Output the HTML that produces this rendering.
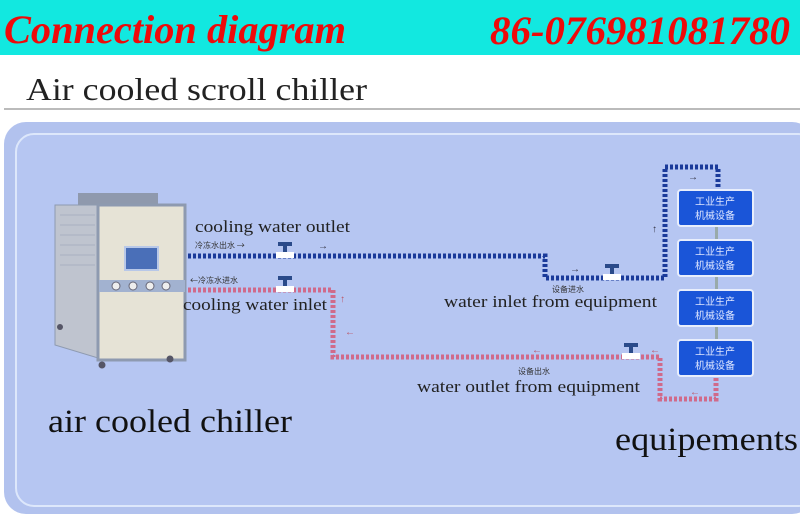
<!DOCTYPE html>
<html><head><meta charset="utf-8"><style>
body{margin:0;width:800px;height:514px;overflow:hidden;background:#fff}
svg{display:block}
</style></head><body>
<svg width="800" height="514" xmlns="http://www.w3.org/2000/svg" font-family="Liberation Serif, serif">
<rect x="0" y="0" width="800" height="55" fill="#12e8e0"/>
<text x="4" y="43" fill="#ee0a0a" font-size="40" font-style="italic" font-weight="bold" textLength="342" lengthAdjust="spacingAndGlyphs">Connection diagram</text>
<text x="490" y="44" fill="#ee0a0a" font-size="40" font-style="italic" font-weight="bold" textLength="300" lengthAdjust="spacingAndGlyphs">86-076981081780</text>
<text x="26" y="100" fill="#222" font-size="32" textLength="341" lengthAdjust="spacingAndGlyphs">Air cooled scroll chiller</text>
<rect x="4" y="108" width="796" height="2" fill="#bbb"/>
<rect x="4" y="122" width="810" height="392" rx="22" fill="#b2c2ee"/>
<rect x="16" y="134" width="800" height="372" rx="18" fill="#b6c6f2" stroke="#dde7fb" stroke-width="2"/>
<!-- chiller -->
<rect x="78" y="193" width="80" height="13" fill="#8f99ad"/>
<polygon points="55,205 98,205 98,358 55,345" fill="#bfc4cf" stroke="#8e9ab0"/>
<g stroke="#a9b0c0"><line x1="60" y1="215" x2="95" y2="215"/><line x1="60" y1="225" x2="95" y2="225"/><line x1="60" y1="235" x2="95" y2="235"/><line x1="60" y1="245" x2="95" y2="245"/><line x1="60" y1="255" x2="95" y2="255"/><line x1="60" y1="265" x2="95" y2="265"/></g>
<rect x="98" y="205" width="87" height="155" fill="#e6e3d6" stroke="#8e9ab0" stroke-width="3"/>
<rect x="125" y="247" width="33" height="23" fill="#4a6fb8" stroke="#b8c8e8" stroke-width="2"/>
<rect x="99" y="280" width="86" height="12" fill="#a2b2d0"/>
<g fill="#eee" stroke="#667"><circle cx="116" cy="286" r="4"/><circle cx="133" cy="286" r="4"/><circle cx="150" cy="286" r="4"/><circle cx="166" cy="286" r="4"/></g>
<g fill="#556"><circle cx="102" cy="365" r="3.5"/><circle cx="170" cy="359" r="3.5"/><circle cx="60" cy="327" r="3"/></g>
<!-- pipes -->
<polyline points="188,256 545,256 545,278 665,278 665,167 718,167 718,190" fill="none" stroke="#1a3a9a" stroke-width="5" stroke-dasharray="3,2"/>
<polyline points="188,290 333,290 333,357 660,357 660,399 716,399 716,375" fill="none" stroke="#d06a8a" stroke-width="5" stroke-dasharray="3,2"/>
<!-- valves -->
<g><rect x="276" y="252" width="18" height="6" fill="#fff"/><rect x="283" y="243" width="4" height="9" fill="#2a4a8a"/><rect x="278" y="242" width="14" height="4" fill="#2a4a8a"/></g>
<g><rect x="276" y="286" width="18" height="6" fill="#fff"/><rect x="283" y="277" width="4" height="9" fill="#2a4a8a"/><rect x="278" y="276" width="14" height="4" fill="#2a4a8a"/></g>
<g><rect x="603" y="274" width="18" height="6" fill="#fff"/><rect x="610" y="265" width="4" height="9" fill="#2a4a8a"/><rect x="605" y="264" width="14" height="4" fill="#2a4a8a"/></g>
<g><rect x="622" y="353" width="18" height="6" fill="#fff"/><rect x="629" y="344" width="4" height="9" fill="#2a4a8a"/><rect x="624" y="343" width="14" height="4" fill="#2a4a8a"/></g>
<!-- boxes -->
<g fill="#1a55d8" stroke="#e8eefc" stroke-width="2">
<rect x="678" y="190" width="75" height="36" rx="3"/><rect x="678" y="240" width="75" height="36" rx="3"/><rect x="678" y="290" width="75" height="36" rx="3"/><rect x="678" y="340" width="75" height="36" rx="3"/></g>
<g fill="#9aa" ><rect x="715" y="227" width="3" height="12"/><rect x="715" y="277" width="3" height="12"/><rect x="715" y="327" width="3" height="12"/></g>
<g fill="#dfe7ff" font-family="Noto Sans CJK SC, sans-serif" font-size="10" text-anchor="middle">
<text x="715" y="205">工业生产</text><text x="715" y="219">机械设备</text>
<text x="715" y="255">工业生产</text><text x="715" y="269">机械设备</text>
<text x="715" y="305">工业生产</text><text x="715" y="319">机械设备</text>
<text x="715" y="355">工业生产</text><text x="715" y="369">机械设备</text></g>
<!-- labels -->
<g fill="#222" font-size="17" lengthAdjust="spacingAndGlyphs">
<text x="195" y="232" textLength="155" lengthAdjust="spacingAndGlyphs">cooling water outlet</text>
<text x="183" y="310" textLength="144" lengthAdjust="spacingAndGlyphs">cooling water inlet</text>
<text x="444" y="307" textLength="213" lengthAdjust="spacingAndGlyphs">water inlet from equipment</text>
<text x="417" y="392" textLength="223" lengthAdjust="spacingAndGlyphs">water outlet from equipment</text></g>
<g fill="#333" font-family="Noto Sans CJK SC, sans-serif" font-size="8">
<text x="195" y="248">冷冻水出水 →</text>
<text x="190" y="283">←冷冻水进水</text>
<text x="552" y="292">设备进水</text>
<text x="518" y="374">设备出水</text></g>
<g fill="#334" font-size="10"><text x="318" y="249">→</text><text x="570" y="272">→</text><text x="688" y="180">→</text><text x="652" y="232">↑</text>
<text x="340" y="302" fill="#b56">↑</text><text x="345" y="335" fill="#b56">←</text><text x="532" y="353" fill="#b56">←</text><text x="650" y="353" fill="#b56">←</text><text x="690" y="395" fill="#b56">←</text></g>
<text x="48" y="432" fill="#111" font-size="33" textLength="244" lengthAdjust="spacingAndGlyphs">air cooled chiller</text>
<text x="615" y="450" fill="#111" font-size="33" textLength="183" lengthAdjust="spacingAndGlyphs">equipements</text>
</svg>
</body></html>
